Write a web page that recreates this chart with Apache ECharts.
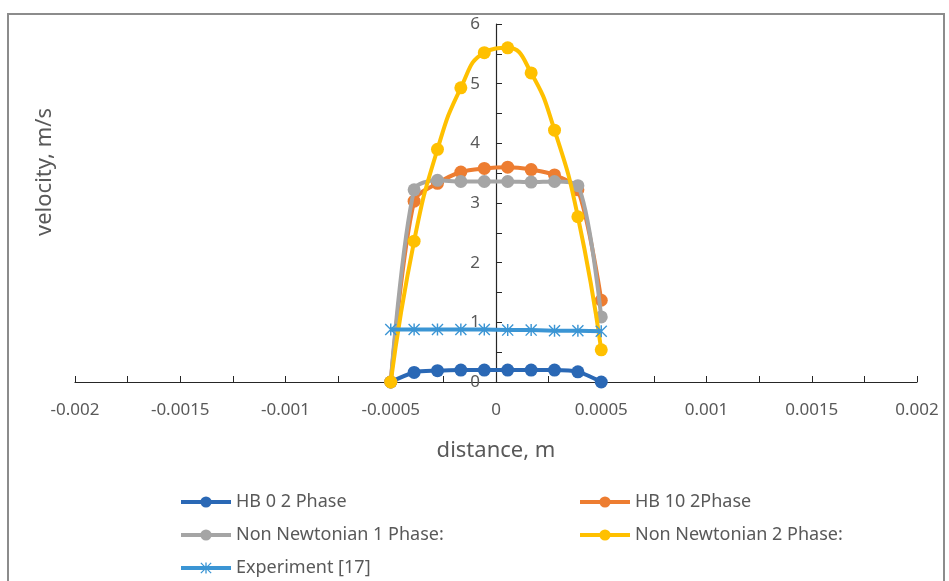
<!DOCTYPE html>
<html lang="en">
<head>
    <meta charset="UTF-8">
    <title>velocity profile</title>
    <script src="https://cdn.jsdelivr.net/npm/echarts@6/dist/echarts.min.js"></script>
    <style>
        * {
            margin: 0;
            padding: 0
        }

        html, body {
            width: 100%;
            height: 100%;
            background: #fff;
        }

        #main {
            width: 949px;
            height: 581px;
        }
    </style>
</head>
<body>
<div id="main"></div>
<script type="text/javascript">
    // distance (m) where the profiles were sampled
    var distance = [-0.0005, -0.000389, -0.000278, -0.000167, -0.0000556, 0.0000556, 0.000167, 0.000278, 0.000389, 0.0005];

    var hb0 = [0, 0.16, 0.19, 0.2, 0.2, 0.2, 0.2, 0.2, 0.17, 0];
    var hb10 = [0, 3.03, 3.33, 3.52, 3.58, 3.6, 3.56, 3.47, 3.22, 1.37];
    var nonNewt1 = [0, 3.22, 3.38, 3.36, 3.36, 3.36, 3.35, 3.36, 3.29, 1.09];
    var nonNewt2 = [0, 2.36, 3.9, 4.93, 5.52, 5.6, 5.18, 4.22, 2.77, 0.54];
    var experiment = [0.88, 0.88, 0.88, 0.88, 0.88, 0.87, 0.87, 0.86, 0.86, 0.85];

    var seriesNames = ['HB 0 2 Phase', 'HB 10 2Phase', 'Non Newtonian 1 Phase:', 'Non Newtonian 2 Phase:', 'Experiment [17]'];
    var colors = ['#2a68b5', '#ED7D31', '#A5A5A5', '#FFC000', '#3b95d4'];

    var font = '"Noto Sans", sans-serif';
    var textColor = '#595959';

    // asterisk marker like the excel "star"
    var starPath = 'path://M4.4 0L5.6 0L5.6 10L4.4 10Z M0 0.8L0.8 0L10 9.2L9.2 10Z M9.2 0L10 0.8L0.8 10L0 9.2Z';

    function pairs(ys) {
        return distance.map(function (x, i) {
            return [x, ys[i]];
        });
    }

    function lineSeries(i, ys, smooth, symbol) {
        return {
            name: seriesNames[i],
            type: 'line',
            data: pairs(ys),
            smooth: smooth,
            symbol: symbol || 'circle',
            symbolSize: symbol ? 12 : 13,
            lineStyle: {width: 4, color: colors[i]},
            itemStyle: {color: colors[i]},
            z: 2 + i
        };
    }

    function legendColumn(left, names) {
        return {
            orient: 'vertical',
            left: left,
            top: 493,
            padding: 0,
            itemWidth: 50,
            itemHeight: 14,
            itemGap: 15,
            lineStyle: {width: 4},
            textStyle: {fontSize: 18, color: textColor},
            data: names
        };
    }

    var chart = echarts.init(document.getElementById('main'));
    chart.setOption({
        animation: false,
        color: colors,
        textStyle: {fontFamily: font},
        grid: {left: 75, right: 32, top: 24, bottom: 199},
        graphic: [
            {
                type: 'rect',
                shape: {x: 8, y: 14, width: 936, height: 590},
                style: {fill: null, stroke: '#8c8c8c', lineWidth: 2},
                silent: true
            },
            {
                type: 'text',
                x: 45,
                y: 172,
                rotation: Math.PI / 2,
                style: {
                    text: 'velocity, m/s',
                    fill: textColor,
                    font: '22px ' + font,
                    textAlign: 'center',
                    textVerticalAlign: 'middle'
                }
            }
        ],
        legend: [
            legendColumn(179, [seriesNames[0], seriesNames[2], seriesNames[4]]),
            legendColumn(578, [seriesNames[1], seriesNames[3]])
        ],
        xAxis: {
            type: 'value',
            min: -0.002,
            max: 0.002,
            interval: 0.0005,
            name: 'distance, m',
            nameLocation: 'middle',
            nameGap: 58,
            nameTextStyle: {fontSize: 22, color: textColor},
            axisLine: {lineStyle: {color: '#262626', width: 1.2}},
            axisTick: {inside: true, length: 6, lineStyle: {color: '#262626'}},
            minorTick: {show: true, splitNumber: 2, length: 6, lineStyle: {color: '#262626'}},
            axisLabel: {
                fontSize: 17,
                color: textColor,
                margin: 20,
                formatter: function (v) {
                    return String(+v.toFixed(4));
                }
            },
            splitLine: {show: false}
        },
        yAxis: {
            type: 'value',
            min: 0,
            max: 6,
            interval: 1,
            // move the axis to distance = 0 (middle of the grid)
            offset: -421,
            axisLine: {show: true, onZero: false, lineStyle: {color: '#262626', width: 1.2}},
            axisTick: {show: true, inside: true, length: 6, lineStyle: {color: '#262626'}},
            minorTick: {show: true, splitNumber: 2, length: 6, lineStyle: {color: '#262626'}},
            axisLabel: {fontSize: 17, color: textColor, margin: 16},
            splitLine: {show: false}
        },
        series: [
            lineSeries(0, hb0, 0.3),
            lineSeries(1, hb10, 0.3),
            lineSeries(2, nonNewt1, 0.3),
            lineSeries(3, nonNewt2, 0.5),
            lineSeries(4, experiment, false, starPath)
        ]
    });
</script>

</body>
</html>
